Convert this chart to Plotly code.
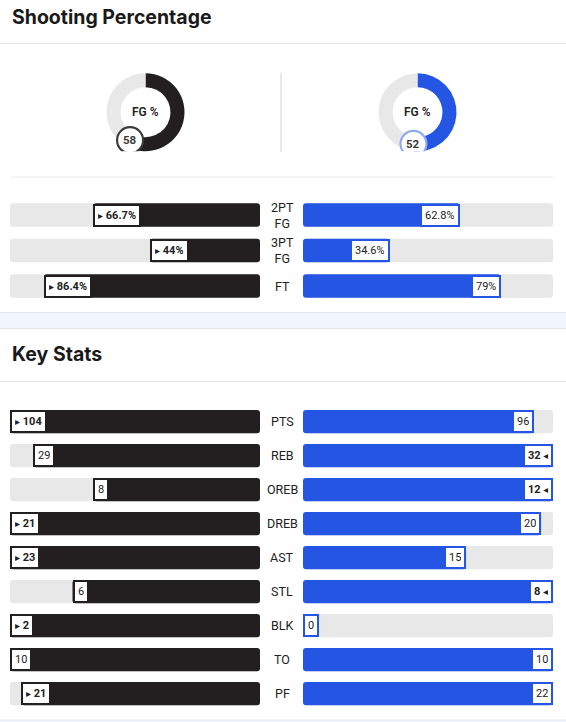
import math
import plotly.graph_objects as go

W, H = 566, 722

BLACK = "#231f20"
BLUE = "#2456e3"
TRACK = "#e8e8e8"
TEXT = "#222222"
LINE = "#e4e4e4"
BAND = "#f0f6fc"

# --- data ---
fg_pct = [58, 52]

shoot_cats = ["2PT FG", "3PT FG", "FT"]
shoot_left = [66.7, 44, 86.4]
shoot_right = [62.8, 34.6, 79]

key_cats = ["PTS", "REB", "OREB", "DREB", "AST", "STL", "BLK", "TO", "PF"]
key_left = [104, 29, 8, 21, 23, 6, 2, 10, 21]
key_right = [96, 32, 12, 20, 15, 8, 0, 10, 22]
lower_is_better = ["TO", "PF"]


def py(p):
    # pixel row -> paper y
    return 1 - p / H


def px(p):
    return p / W


def winner(cat, l, r):
    if l == r:
        return None
    if cat in lower_is_better:
        return "L" if l < r else "R"
    return "L" if l > r else "R"


fig = go.Figure()
annotations = []

sections = [
    # cats, left, right, yaxis, scale, fmt, bar width
    (shoot_cats, shoot_left, shoot_right, "y", lambda l, r: 100.0, lambda v: f"{v:g}%", 0.66),
    (key_cats, key_left, key_right, "y2", lambda l, r: max(l, r), lambda v: f"{v:g}", 0.685),
]

ARROW_R = "<span style='font-family:DejaVu Sans;font-size:10px'>▸</span>"
ARROW_L = "<span style='font-family:DejaVu Sans;font-size:10px'>◂</span>"

for cats, L, R, yax, scale, fmt, bw in sections:
    n = len(cats)
    fl = [l / scale(l, r) for l, r in zip(L, R)]
    fr = [r / scale(l, r) for l, r in zip(L, R)]
    for xax, fr_side, col in (("x", fl, BLACK), ("x2", fr, BLUE)):
        fig.add_trace(go.Bar(
            y=cats, x=[1] * n, base=[0] * n, orientation="h",
            xaxis=xax, yaxis=yax, width=bw,
            marker=dict(color=TRACK, cornerradius=3, line=dict(width=0)),
            hoverinfo="skip", showlegend=False))
        fig.add_trace(go.Bar(
            y=cats, x=[-f for f in fr_side], base=fr_side, orientation="h",
            xaxis=xax, yaxis=yax, width=bw,
            marker=dict(color=col, cornerradius=3, line=dict(width=0)),
            hoverinfo="skip", showlegend=False))

    for i, cat in enumerate(cats):
        w = winner(cat, L[i], R[i])
        # centre label
        annotations.append(dict(
            x=px(282), xref="paper", y=cat, yref=yax, text=cat.replace(" ", "<br>"),
            showarrow=False, xanchor="center", yanchor="middle",
            font=dict(family="Roboto", size=12.5, color=TEXT)))
        # left value box
        s = fmt(L[i])
        txt = f"{ARROW_R} <b>{s}</b>" if w == "L" else s
        annotations.append(dict(
            x=fl[i], xref="x", y=cat, yref=yax, text=txt, showarrow=False,
            xanchor="left", yanchor="middle", bgcolor="white",
            bordercolor=BLACK, borderwidth=2, borderpad=3, height=13,
            font=dict(family="Roboto", size=11, color=TEXT)))
        # right value box
        s = fmt(R[i])
        txt = f"<b>{s}</b> {ARROW_L}" if w == "R" else s
        small = fr[i] * 250 < 20
        annotations.append(dict(
            x=0 if small else fr[i], xref="x2", y=cat, yref=yax, text=txt,
            showarrow=False, xanchor="left" if small else "right", yanchor="middle",
            bgcolor="white", bordercolor=BLUE, borderwidth=2, borderpad=3, height=13,
            font=dict(family="Roboto", size=11, color=TEXT)))

# --- donuts ---
R_OUT = 39.0
donut_cx = [145.5, 417.5]
donut_cy = 112.2
donut_cols = [BLACK, BLUE]
badge_cols = ["#3a3a3a", "#8fa9f0"]
shapes = []
for k, pct in enumerate(fg_pct):
    cx = donut_cx[k]
    dom_x = [px(cx - R_OUT), px(cx + R_OUT)]
    dom_y = [py(donut_cy + R_OUT), py(donut_cy - R_OUT)]
    fig.add_trace(go.Pie(
        values=[pct, 100 - pct], sort=False, direction="clockwise", rotation=0,
        hole=0.64, textinfo="none", hoverinfo="skip", showlegend=False,
        marker=dict(colors=[donut_cols[k], TRACK], line=dict(width=0)),
        domain=dict(x=dom_x, y=dom_y)))
    xa, ya = f"x{k + 3}", f"y{k + 3}"
    theta = math.radians(pct / 100 * 360)
    bx, by = 0.82 * math.sin(theta), 0.82 * math.cos(theta)
    fig.add_trace(go.Scatter(
        x=[bx], y=[by], xaxis=xa, yaxis=ya, mode="markers",
        marker=dict(size=1, color="rgba(0,0,0,0)"), hoverinfo="skip", showlegend=False))
    rb = 13 / R_OUT
    shapes.append(dict(type="circle", xref=xa, yref=ya, x0=bx - rb, x1=bx + rb,
                       y0=by - rb, y1=by + rb, fillcolor="white",
                       line=dict(color=badge_cols[k], width=2.2), layer="above"))
    annotations.append(dict(x=bx, y=by, xref=xa, yref=ya, text=f"<b>{pct}</b>",
                            showarrow=False, font=dict(family="Roboto", size=11.5, color="#3a3a3a")))
    annotations.append(dict(x=0, y=0, xref=xa, yref=ya, text="FG %",
                            showarrow=False,
                            font=dict(family="Roboto", size=12, color=TEXT, weight=600)))
    fig.update_layout(**{
        f"xaxis{k + 3}": dict(domain=dom_x, range=[-1, 1], visible=False, fixedrange=True, anchor=ya),
        f"yaxis{k + 3}": dict(domain=dom_y, range=[-1, 1], visible=False, fixedrange=True, anchor=xa),
    })

# --- headings ---
for title, yy in (("Shooting Percentage", 17), ("Key Stats", 354)):
    annotations.append(dict(x=px(10), y=py(yy), xref="paper", yref="paper", text=title,
                            showarrow=False, xanchor="left", yanchor="middle",
                            font=dict(family="Inter", size=19.5, color="#1a1a1a", weight=700)))

# --- page decoration ---
def hline(y, x0=0, x1=W, color=LINE, width=1):
    return dict(type="line", xref="paper", yref="paper", x0=px(x0), x1=px(x1),
                y0=py(y), y1=py(y), line=dict(color=color, width=width), layer="below")

shapes += [
    hline(43.5),
    hline(177, 10, 553, "#e8e8e8"),
    dict(type="line", xref="paper", yref="paper", x0=px(281), x1=px(281),
         y0=py(73), y1=py(152), line=dict(color="#e2e2e2", width=1.5), layer="below"),
    dict(type="rect", xref="paper", yref="paper", x0=0, x1=1, y0=py(329), y1=py(312),
         fillcolor=BAND, line=dict(width=0), layer="below"),
    hline(312.5, color="#e2e5e8"),
    hline(328.5, color="#e2e5e8"),
    hline(381.5),
    dict(type="rect", xref="paper", yref="paper", x0=0, x1=1, y0=0, y1=py(720),
         fillcolor=BAND, line=dict(width=0), layer="below"),
    hline(720, color="#e2e5e8"),
]

n1, n2 = len(shoot_cats), len(key_cats)
fig.update_layout(
    width=W, height=H, margin=dict(l=0, r=0, t=0, b=0),
    paper_bgcolor="white", plot_bgcolor="rgba(0,0,0,0)",
    barmode="overlay", showlegend=False,
    xaxis=dict(domain=[px(10), px(260)], range=[1, 0], visible=False, fixedrange=True),
    xaxis2=dict(domain=[px(303), px(553)], range=[0, 1], visible=False, fixedrange=True),
    yaxis=dict(domain=[py(303.75), py(197.25)], type="category", categoryorder="array",
               categoryarray=shoot_cats, range=[n1 - 0.5, -0.5], visible=False,
               fixedrange=True, anchor="x"),
    yaxis2=dict(domain=[py(710.7), py(404.7)], type="category", categoryorder="array",
                categoryarray=key_cats, range=[n2 - 0.5, -0.5], visible=False,
                fixedrange=True, anchor="x"),
    annotations=annotations, shapes=shapes,
)

fig.write_html("out.html", config={"displayModeBar": False},
               post_script="document.body.style.margin='0';")
